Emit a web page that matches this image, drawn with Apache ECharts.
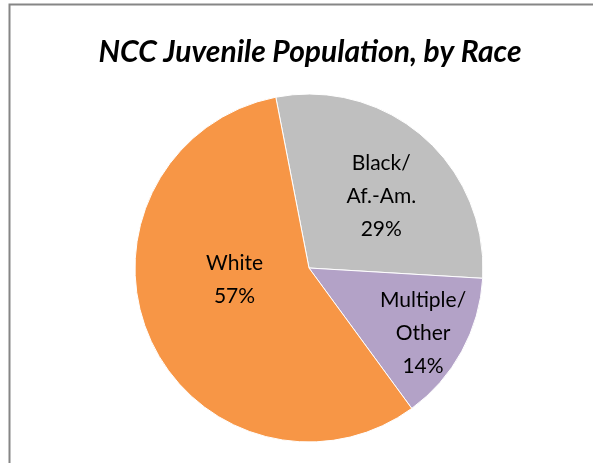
<!DOCTYPE html>
<html><head><meta charset="utf-8">
<script src="https://cdn.jsdelivr.net/npm/echarts@6/dist/echarts.min.js"></script>
<style>html,body{margin:0;padding:0;background:#fff}#c{width:593px;height:463px}</style>
</head><body><div id="c"></div>
<script>
const titleText = 'NCC Juvenile Population, by Race';
const categories = ['Black/\nAf.-Am.', 'Multiple/\nOther', 'White'];
const values = [29, 14, 57];
const colors = ['#BFBFBF', '#B3A2C7', '#F79646'];
const labelOffsets = [[13, -4], [35, 22], [8, -24]];

const chart = echarts.init(document.getElementById('c'), null, {renderer: 'canvas'});
chart.setOption({
  animation: false,
  backgroundColor: '#fff',
  title: {
    text: titleText, left: 305, top: 32, textAlign: 'center',
    textStyle: {fontFamily: 'Lato', fontWeight: 'bold', fontStyle: 'italic', fontSize: 30, color: '#000'}
  },
  graphic: [{
    type: 'rect', shape: {x: 9.5, y: 4.5, width: 700, height: 600},
    style: {fill: 'none', stroke: '#868686', lineWidth: 2}, silent: true
  }],
  series: [{
    type: 'pie',
    center: [309, 268],
    radius: 174,
    startAngle: 101,
    clockwise: true,
    avoidLabelOverlap: false,
    itemStyle: {borderColor: '#fff', borderWidth: 1},
    label: {
      show: true, position: 'inside', fontFamily: 'Lato', fontSize: 21, lineHeight: 33, color: '#000',
      formatter: p => p.name + '\n' + p.value + '%'
    },
    labelLine: {show: false},
    data: categories.map((n, i) => ({
      name: n, value: values[i], itemStyle: {color: colors[i]},
      label: {offset: labelOffsets[i]}
    }))
  }]
});
</script></body></html>
